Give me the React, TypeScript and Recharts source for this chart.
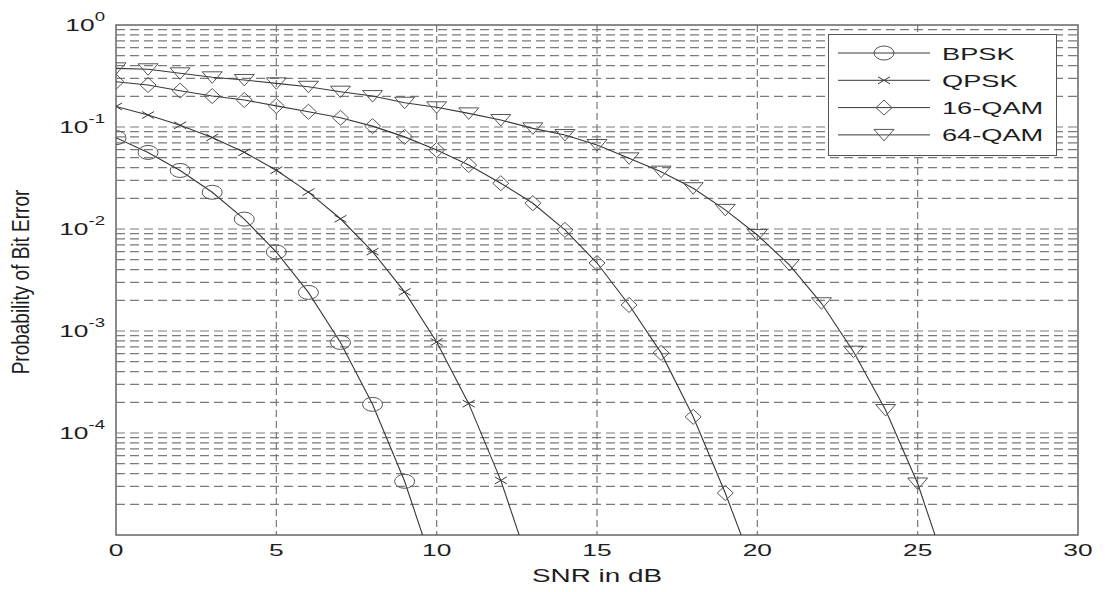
import React from "react";
import {
  CartesianGrid,
  Legend,
  Line,
  LineChart,
  ReferenceArea,
  ReferenceLine,
  XAxis,
  YAxis,
} from "recharts";

// SNR steps (dB) and the bit error rates
const SNR_DB = [0, 1, 2, 3, 4, 5, 6, 7, 8, 9, 10, 11, 12, 13, 14, 15, 16, 17, 18, 19, 20, 21, 22, 23, 24, 25, 26];

const BPSK_BER = [0.0786, 0.0563, 0.0375, 0.0229, 0.0125, 0.00595, 0.00239, 0.000773, 0.000191, 3.36e-5, 3.87e-6];
const QPSK_BER = [0.159, 0.131, 0.104, 0.0789, 0.0565, 0.0377, 0.023, 0.0126, 0.006, 0.00242, 0.00078, 0.000194, 3.43e-5, 3.97e-6];
const QAM16_BER = [
  0.278, 0.258, 0.227, 0.201, 0.184, 0.161, 0.141, 0.123, 0.102, 0.08, 0.0595, 0.0424, 0.0281, 0.0179, 0.0098, 0.00464,
  0.0018, 0.00061, 0.000144, 2.58e-5, 3.8e-6,
];
const QAM64_BER = [
  0.376, 0.368, 0.336, 0.307, 0.289, 0.268, 0.248, 0.222, 0.201, 0.173, 0.156, 0.136, 0.117, 0.097, 0.0835, 0.0666,
  0.0493, 0.0365, 0.0251, 0.0154, 0.00874, 0.00444, 0.00187, 0.000627, 0.000168, 3.2e-5, 3.7e-6,
];

const X_TICKS = [0, 5, 10, 15, 20, 25, 30];
const Y_TICKS = [1, 0.1, 0.01, 0.001, 0.0001];
const Y_MIN = 1e-5;
// log grid: every 1..9 step inside each decade
const DECADES = [1e-5, 1e-4, 1e-3, 1e-2, 1e-1];
const STEPS = [1, 2, 3, 4, 5, 6, 7, 8, 9];
const Y_GRID = DECADES.flatMap((d) => STEPS.map((m) => m * d)).filter((v) => v > Y_MIN);

type Kind = "circle" | "x" | "diamond" | "triangle";

const SERIES: { name: string; kind: Kind; values: number[] }[] = [
  { name: "BPSK", kind: "circle", values: BPSK_BER },
  { name: "QPSK", kind: "x", values: QPSK_BER },
  { name: "16-QAM", kind: "diamond", values: QAM16_BER },
  { name: "64-QAM", kind: "triangle", values: QAM64_BER },
];

const toPoints = (vals: number[]) => vals.map((ber, i) => ({ snr: SNR_DB[i], ber }));

const LINE = "#383838";
const MARK = "#555";
const GRID = "#7a7a7a";
const TEXT = "#1e1e1e";
const SX = 1.55; // the picture is stretched sideways

function Marker({ kind, cx, cy }: { kind: Kind; cx: number; cy: number }) {
  const common = { fill: "none", stroke: MARK, strokeWidth: 1 };
  if (kind === "circle") return <ellipse cx={cx} cy={cy} rx={10} ry={7} {...common} />;
  if (kind === "x")
    return (
      <path
        d={`M${cx - 6},${cy - 3.5}L${cx + 6},${cy + 3.5}M${cx - 6},${cy + 3.5}L${cx + 6},${cy - 3.5}`}
        {...common}
        stroke={LINE}
      />
    );
  if (kind === "diamond")
    return <path d={`M${cx},${cy - 7.5}L${cx + 8},${cy}L${cx},${cy + 7.5}L${cx - 8},${cy}Z`} {...common} />;
  return <path d={`M${cx - 10},${cy - 5.5}L${cx + 10},${cy - 5.5}L${cx},${cy + 6}Z`} {...common} />;
}

const makeDot = (kind: Kind) => (props: any) => {
  const { cx, cy, payload, index } = props;
  if (payload.ber < Y_MIN || cx == null || cy == null) return <g key={index} />;
  return (
    <g key={index}>
      <Marker kind={kind} cx={cx} cy={cy} />
    </g>
  );
};

const YTick = ({ x, y, payload }: any) => {
  const exp = Math.round(Math.log10(payload.value));
  return (
    <g transform={`translate(${x - 11},${y}) scale(${SX},1)`}>
      <text x={0} y={6} textAnchor="end" fontSize={17} fill={TEXT}>
        10
        <tspan dy={-10} fontSize={12}>
          {exp}
        </tspan>
      </text>
    </g>
  );
};

const XTick = ({ x, y, payload }: any) => (
  <g transform={`translate(${x},${y + 21}) scale(${SX},1)`}>
    <text x={0} y={0} textAnchor="middle" fontSize={17} fill={TEXT}>
      {payload.value}
    </text>
  </g>
);

const XLabel = ({ viewBox }: any) => (
  <g transform={`translate(${viewBox.x + viewBox.width / 2},${viewBox.y + 47}) scale(${SX},1)`}>
    <text x={0} y={0} textAnchor="middle" fontSize={18} fill={TEXT}>
      SNR in dB
    </text>
  </g>
);

const YLabel = ({ viewBox }: any) => (
  <g transform={`translate(29,${viewBox.y + viewBox.height / 2 + 2}) rotate(-90) scale(1,1.3)`}>
    <text x={0} y={0} textAnchor="middle" fontSize={19} fill={TEXT}>
      Probability of Bit Error
    </text>
  </g>
);

const LegendBox = () => (
  <svg width={229} height={122} style={{ display: "block" }}>
    <rect x={0.5} y={0.5} width={228} height={121} fill="#fff" stroke="#555" strokeWidth={1} />
    {SERIES.map((s, i) => {
      const y = 19 + i * 27.3;
      return (
        <g key={s.name}>
          <line x1={10} x2={102} y1={y} y2={y} stroke={LINE} strokeWidth={1} />
          <Marker kind={s.kind} cx={56} cy={y} />
          <g transform={`translate(114,${y + 6.5}) scale(1.6,1)`}>
            <text x={0} y={0} fontSize={17} fill={TEXT}>
              {s.name}
            </text>
          </g>
        </g>
      );
    })}
  </svg>
);

export default function App() {
  return (
    <div
      style={{
        position: "absolute",
        left: 0,
        top: 0,
        width: 1107,
        height: 592,
        background: "#fff",
        fontFamily: "'Liberation Sans', Arial, sans-serif",
      }}
    >
      <LineChart width={1107} height={592} margin={{ top: 25, right: 29, bottom: 27, left: 46 }}>
        <CartesianGrid
          horizontal={false}
          stroke={GRID}
          strokeWidth={1.2}
          strokeDasharray="7 4"
          verticalValues={[5, 10, 15, 20, 25]}
        />
        <XAxis
          type="number"
          dataKey="snr"
          domain={[0, 30]}
          ticks={X_TICKS}
          allowDataOverflow
          axisLine={false}
          tickLine={false}
          tickSize={0}
          tickMargin={0}
          height={30}
          tick={<XTick />}
          label={<XLabel />}
        />
        <YAxis
          type="number"
          dataKey="ber"
          scale="log"
          domain={[Y_MIN, 1]}
          ticks={Y_TICKS}
          allowDataOverflow
          axisLine={false}
          tickLine={false}
          tickSize={0}
          tickMargin={0}
          width={70}
          tick={<YTick />}
          label={<YLabel />}
        />
        {Y_GRID.map((v) => (
          <ReferenceLine key={v} y={v} stroke={GRID} strokeWidth={1.2} strokeDasharray="9 5" />
        ))}
        <ReferenceArea x1={0} x2={30} y1={Y_MIN} y2={1} fill="none" stroke="#666" strokeWidth={1.5} />
        {SERIES.map((s) => (
          <Line
            key={s.name}
            data={toPoints(s.values)}
            dataKey="ber"
            name={s.name}
            type="linear"
            stroke={LINE}
            strokeWidth={1.1}
            dot={makeDot(s.kind)}
            activeDot={false}
            isAnimationActive={false}
          />
        ))}
        <Legend
          layout="vertical"
          align="center"
          verticalAlign="middle"
          content={<LegendBox />}
          wrapperStyle={{ position: "absolute", left: 828, top: 34, width: 229, height: 122 }}
        />
      </LineChart>
    </div>
  );
}
